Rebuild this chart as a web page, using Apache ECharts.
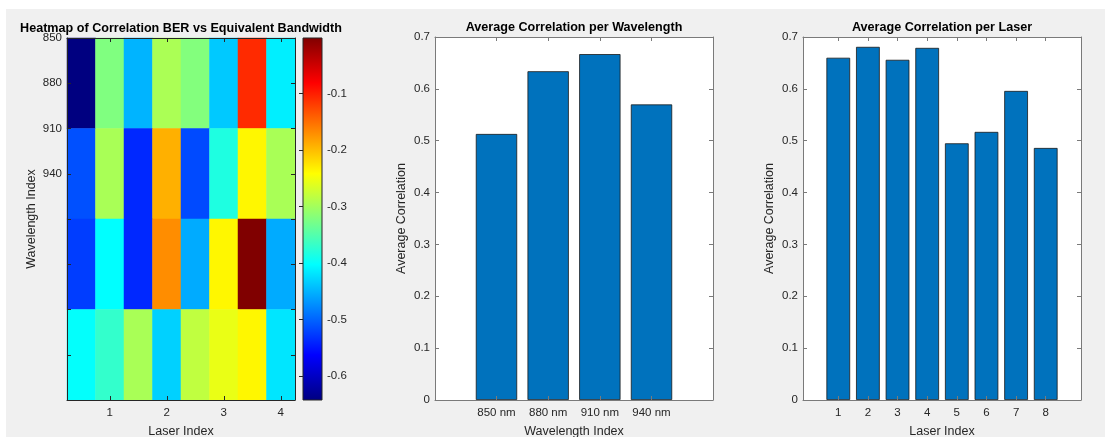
<!DOCTYPE html>
<html>
<head>
<meta charset="utf-8">
<script src="https://cdn.jsdelivr.net/npm/echarts@6/dist/echarts.min.js"></script>
<style>
  html, body { margin: 0; padding: 0; background: #fff; }
  #wrap { position: relative; width: 1105px; height: 437px; overflow: hidden; background: #fff; }
  #panel { position: absolute; left: 6px; top: 9px; right: 0; bottom: 0; background: #f0f0f0; }
  #chart { position: absolute; left: 0; top: 0; width: 1105px; height: 437px; }
</style>
</head>
<body>
<div id="wrap"><div id="panel"></div><div id="chart"></div></div>
<script>
// ---- data ----
const laserPositions = ['0.5', '1', '1.5', '2', '2.5', '3', '3.5', '4'];
const wavelengthRows = ['850', '880', '910', '940'];
const wavelengthTickLabels = ['850', '880', '910', '940'];
const wavelengthNames = ['850 nm', '880 nm', '910 nm', '940 nm'];
const laserNames = ['1', '2', '3', '4', '5', '6', '7', '8'];

const corr850 = [-0.642, -0.322, -0.449, -0.295, -0.320, -0.436, -0.108, -0.412];
const corr880 = [-0.512, -0.296, -0.537, -0.192, -0.516, -0.383, -0.237, -0.296];
const corr910 = [-0.524, -0.402, -0.537, -0.170, -0.455, -0.237, -0.002, -0.455];
const corr940 = [-0.400, -0.370, -0.296, -0.431, -0.282, -0.255, -0.237, -0.418];

const avgPerWavelength = [0.513, 0.634, 0.667, 0.570];
const avgPerLaser = [0.660, 0.681, 0.656, 0.679, 0.495, 0.517, 0.596, 0.486];

const colorRange = [-0.642, -0.002];
const colorbarTicks = [-0.6, -0.5, -0.4, -0.3, -0.2, -0.1];
const barTicks = [0, 0.7, 0.1]; // min, max, step

// jet colormap, sampled at its eight linear segments
const jet = ['#000080', '#0000ff', '#0080ff', '#00ffff', '#80ff80', '#ffff00', '#ff8000', '#ff0000', '#800000'];

// ---- styling ----
const FONT = '"Liberation Sans", Arial, Helvetica, sans-serif';
const TXT = '#262626';
const BOX = '#262626';
const BAR_BOX = '#7a7a7a';
const tickFont = { fontFamily: FONT, fontSize: 11.5, color: TXT };
const nameFont = { fontFamily: FONT, fontSize: 12.5, color: TXT };
const titleFont = { fontFamily: FONT, fontSize: 12.6, fontWeight: 'bold', color: '#000' };

const heatRows = [corr850, corr880, corr910, corr940];
const heatData = [];
heatRows.forEach((row, r) => row.forEach((v, c) => heatData.push([c, r, v])));

const isWhole = (idx, val) => Number.isInteger(parseFloat(val));

function boxLine(color) {
  return { show: true, onZero: false, lineStyle: { color: color, width: 1 } };
}
function inTick(color, extra) {
  return Object.assign({ show: true, inside: true, length: 4, lineStyle: { color: color, width: 1 } }, extra || {});
}

const gridBase = { outerBoundsMode: 'none', containLabel: false };
const grids = [
  Object.assign({ left: 67, top: 38, width: 228, height: 362 }, gridBase),                       // heatmap
  Object.assign({ left: 303, top: 38, width: 19, height: 362 }, gridBase),                       // colorbar
  Object.assign({ left: 435, top: 37, width: 278, height: 363, show: true, backgroundColor: '#fff', borderWidth: 0 }, gridBase),
  Object.assign({ left: 803, top: 37, width: 278, height: 363, show: true, backgroundColor: '#fff', borderWidth: 0 }, gridBase)
];

const xAxes = [
  // heatmap bottom
  { gridIndex: 0, type: 'category', data: laserPositions, position: 'bottom', z: 5,
    axisLine: boxLine(BOX), axisTick: inTick(BOX, { interval: isWhole, alignWithLabel: true }),
    axisLabel: Object.assign({ interval: isWhole, margin: 7 }, tickFont), splitLine: { show: false },
    name: 'Laser Index', nameLocation: 'middle', nameGap: 25, nameTextStyle: nameFont },
  // heatmap top
  { gridIndex: 0, type: 'category', data: laserPositions, position: 'top', z: 5,
    axisLine: boxLine(BOX), axisTick: inTick(BOX, { interval: isWhole, alignWithLabel: true }),
    axisLabel: { show: false }, splitLine: { show: false },
    name: 'Heatmap of Correlation BER vs Equivalent Bandwidth', nameLocation: 'middle', nameGap: 3, nameTextStyle: titleFont },
  // colorbar
  { gridIndex: 1, type: 'value', min: 0, max: 1, show: false },
  // wavelength bars bottom
  { gridIndex: 2, type: 'value', min: -0.19, max: 5.19, position: 'bottom', z: 5,
    axisLine: boxLine(BAR_BOX), axisTick: inTick(BAR_BOX, { customValues: [1, 2, 3, 4] }),
    axisLabel: Object.assign({ customValues: [1, 2, 3, 4], margin: 7, formatter: v => wavelengthNames[Math.round(v) - 1] || '' }, tickFont),
    splitLine: { show: false },
    name: 'Wavelength Index', nameLocation: 'middle', nameGap: 25, nameTextStyle: nameFont },
  // wavelength bars top
  { gridIndex: 2, type: 'value', min: -0.19, max: 5.19, position: 'top', z: 5,
    axisLine: boxLine(BAR_BOX), axisTick: inTick(BAR_BOX, { customValues: [1, 2, 3, 4] }),
    axisLabel: { show: false }, splitLine: { show: false },
    name: 'Average Correlation per Wavelength', nameLocation: 'middle', nameGap: 3, nameTextStyle: titleFont },
  // laser bars bottom
  { gridIndex: 3, type: 'value', min: -0.19, max: 9.19, position: 'bottom', z: 5,
    axisLine: boxLine(BAR_BOX), axisTick: inTick(BAR_BOX, { customValues: [1, 2, 3, 4, 5, 6, 7, 8] }),
    axisLabel: Object.assign({ customValues: [1, 2, 3, 4, 5, 6, 7, 8], margin: 7, formatter: v => laserNames[Math.round(v) - 1] || '' }, tickFont),
    splitLine: { show: false },
    name: 'Laser Index', nameLocation: 'middle', nameGap: 25, nameTextStyle: nameFont },
  // laser bars top
  { gridIndex: 3, type: 'value', min: -0.19, max: 9.19, position: 'top', z: 5,
    axisLine: boxLine(BAR_BOX), axisTick: inTick(BAR_BOX, { customValues: [1, 2, 3, 4, 5, 6, 7, 8] }),
    axisLabel: { show: false }, splitLine: { show: false },
    name: 'Average Correlation per Laser', nameLocation: 'middle', nameGap: 3, nameTextStyle: titleFont }
];

function barYAxis(grid, pos, withLabels) {
  const ax = { gridIndex: grid, type: 'value', min: barTicks[0], max: barTicks[1], interval: barTicks[2],
    position: pos, z: 5, axisLine: boxLine(BAR_BOX), axisTick: inTick(BAR_BOX), splitLine: { show: false },
    axisLabel: withLabels ? Object.assign({ margin: 5 }, tickFont) : { show: false } };
  if (withLabels) {
    Object.assign(ax, { name: 'Average Correlation', nameLocation: 'middle', nameGap: 27, nameTextStyle: nameFont });
  }
  return ax;
}

const yAxes = [
  // heatmap rows (cells)
  { gridIndex: 0, type: 'category', data: wavelengthRows, inverse: true, show: false },
  // heatmap left ticks / labels
  { gridIndex: 0, type: 'value', min: 0, max: 8, interval: 1, inverse: true, position: 'left', z: 5,
    axisLine: boxLine(BOX), axisTick: inTick(BOX), splitLine: { show: false },
    axisLabel: Object.assign({ margin: 5, formatter: v => wavelengthTickLabels[v] || '' }, tickFont),
    name: 'Wavelength Index', nameLocation: 'middle', nameGap: 29, nameTextStyle: nameFont },
  // heatmap right ticks
  { gridIndex: 0, type: 'value', min: 0, max: 8, interval: 1, inverse: true, position: 'right', z: 5,
    axisLine: boxLine(BOX), axisTick: inTick(BOX), splitLine: { show: false }, axisLabel: { show: false } },
  // colorbar scale
  { gridIndex: 1, type: 'value', min: colorRange[0], max: colorRange[1], position: 'right', z: 5,
    axisLine: { show: false }, splitLine: { show: false },
    axisTick: inTick(BOX, { customValues: colorbarTicks }),
    axisLabel: Object.assign({ customValues: colorbarTicks, margin: 5, formatter: v => v.toFixed(1) }, tickFont) },
  barYAxis(2, 'left', true),
  barYAxis(2, 'right', false),
  barYAxis(3, 'left', true),
  barYAxis(3, 'right', false)
];

const barStyle = { color: '#0072BD', borderColor: '#1a1a1a', borderWidth: 0.8 };

const option = {
  animation: false,
  backgroundColor: 'transparent',
  grid: grids,
  xAxis: xAxes,
  yAxis: yAxes,
  visualMap: {
    type: 'continuous', show: false, seriesIndex: 0, dimension: 2,
    min: colorRange[0], max: colorRange[1], inRange: { color: jet }
  },
  series: [
    { type: 'heatmap', xAxisIndex: 0, yAxisIndex: 0, data: heatData, itemStyle: { borderWidth: 0 } },
    { type: 'custom', xAxisIndex: 2, yAxisIndex: 3, data: [[0, colorRange[0], 1, colorRange[1]]],
      renderItem: function (params, api) {
        const p0 = api.coord([api.value(0), api.value(1)]);
        const p1 = api.coord([api.value(2), api.value(3)]);
        const stops = jet.map((c, i) => ({ offset: i / (jet.length - 1), color: c }));
        return {
          type: 'rect',
          shape: { x: p0[0], y: p1[1], width: p1[0] - p0[0], height: p0[1] - p1[1] },
          style: { fill: new echarts.graphic.LinearGradient(0, 1, 0, 0, stops), stroke: BOX, lineWidth: 1 }
        };
      } },
    { type: 'bar', xAxisIndex: 3, yAxisIndex: 4, barWidth: '80%',
      data: avgPerWavelength.map((v, i) => [i + 1, v]), itemStyle: barStyle },
    { type: 'bar', xAxisIndex: 5, yAxisIndex: 6, barWidth: '80%',
      data: avgPerLaser.map((v, i) => [i + 1, v]), itemStyle: barStyle }
  ]
};

const chart = echarts.init(document.getElementById('chart'), null, { renderer: 'canvas' });
chart.setOption(option);
</script>
</body>
</html>
